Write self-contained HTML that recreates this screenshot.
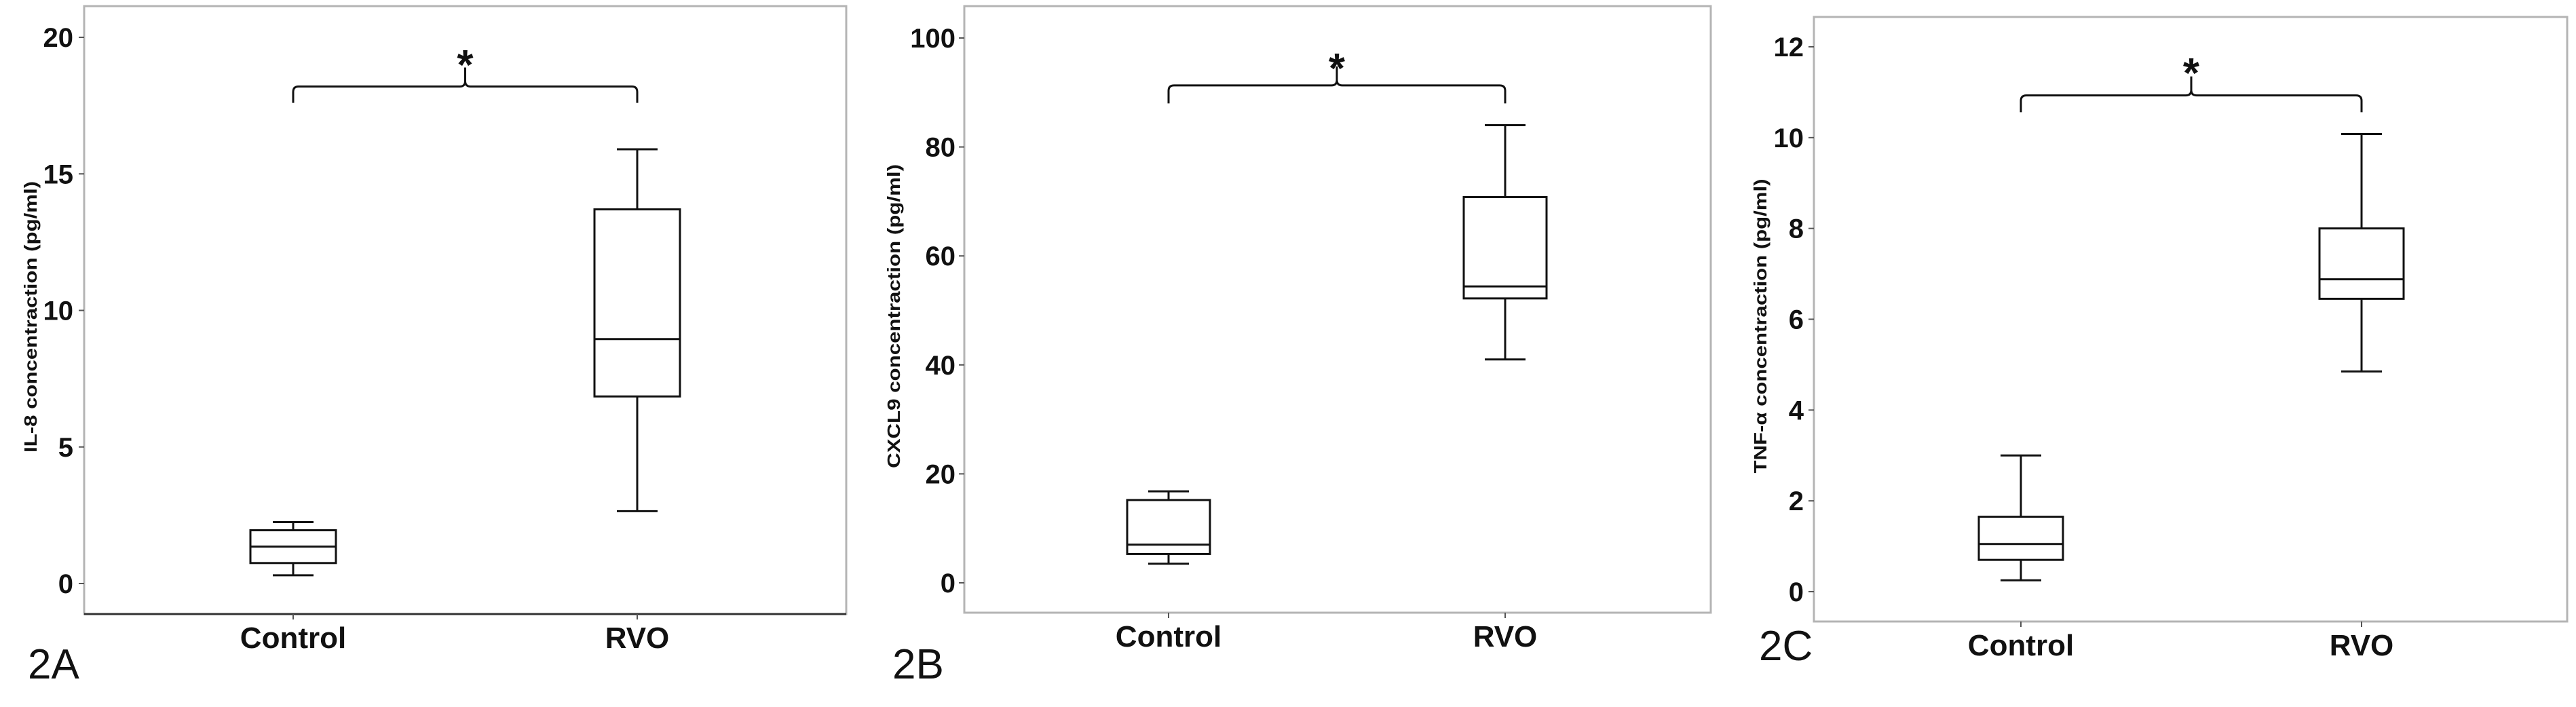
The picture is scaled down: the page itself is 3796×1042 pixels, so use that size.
<!DOCTYPE html>
<html><head><meta charset="utf-8"><style>
html,body{margin:0;padding:0;background:#fff;}
svg{display:block;}
text{font-family:"Liberation Sans Narrow","Liberation Sans",sans-serif;}
</style></head><body>
<svg id="fig" width="3796" height="1042" viewBox="0 0 3796 1042" xmlns="http://www.w3.org/2000/svg"></svg>
<script>
const categories = ["Control","RVO"];
// panel A: IL-8
const il8Stats = [[0.3,0.75,1.35,1.95,2.25],[2.65,6.85,8.95,13.7,15.9]];
const il8Ticks = [0,5,10,15,20];
const il8Sig = [18.2,17.6,19.2];
// panel B: CXCL9
const cxcl9Stats = [[3.5,5.3,7.0,15.2,16.8],[41,52.2,54.4,70.8,84]];
const cxcl9Ticks = [0,20,40,60,80,100];
const cxcl9Sig = [91.3,88,95.5];
// panel C: TNF-a
const tnfStats = [[0.25,0.7,1.05,1.65,3.0],[4.85,6.45,6.88,8.0,10.08]];
const tnfTicks = [0,2,4,6,8,10,12];
const tnfSig = [10.93,10.56,11.55];

const NS = "http://www.w3.org/2000/svg";
const svg = document.getElementById('fig');
function mk(tag, attrs, parent){
  const e = document.createElementNS(NS, tag);
  for (const k in attrs) e.setAttribute(k, attrs[k]);
  (parent||svg).appendChild(e);
  return e;
}
const panels = [
  {id:'a', label:'2A', title:'IL-8 concentraction (pg/ml)', stats:il8Stats, ticks:il8Ticks, sig:il8Sig,
   left:124, top:9, right:1247, bottom:905, y0:860, vmax:20, ymax:55, xs:[432,939], half:63, cap:30,
   tickRight:112, titleX:47, titleLen:400, lblX:41, lblY:1000, bottomDark:true},
  {id:'b', label:'2B', title:'CXCL9 concentraction (pg/ml)', stats:cxcl9Stats, ticks:cxcl9Ticks, sig:cxcl9Sig,
   left:1421, top:9, right:2521, bottom:903, y0:859, vmax:100, ymax:56, xs:[1722,2218], half:61, cap:30,
   tickRight:1412, titleX:1319, titleLen:448, lblX:1315, lblY:1000, bottomDark:false},
  {id:'c', label:'2C', title:'TNF-α concentraction (pg/ml)', stats:tnfStats, ticks:tnfTicks, sig:tnfSig,
   left:2673, top:25, right:3783, bottom:916, y0:872, vmax:12, ymax:69, xs:[2978,3480], half:62, cap:30,
   tickRight:2662, titleX:2596, titleLen:434, lblX:2592, lblY:973, bottomDark:false}
];
panels.forEach(p => {
  const g = mk('g', {});
  
  
  const y = v => p.y0 - (v / p.vmax) * (p.y0 - p.ymax);
  const frame = mk('rect', {x:p.left, y:p.top, width:p.right-p.left, height:p.bottom-p.top, fill:'none', stroke:'#b4b4b4', 'stroke-width':3}, g);
  
  
  const xa = mk('line', {x1:p.left, x2:p.right, y1:p.bottom, y2:p.bottom, stroke:p.bottomDark?'#333':'#b4b4b4', 'stroke-width':3}, g);
  
  
  p.ticks.forEach(t => {
    const tl = mk('line', {x1:p.left-8, x2:p.left, y1:y(t), y2:y(t), stroke:'#555', 'stroke-width':2}, g);
    
    
    const tx = mk('text', {x:p.tickRight-4, y:y(t)+14, 'text-anchor':'end', 'font-size':40, 'font-weight':'bold', fill:'#111'}, g);
    tx.textContent = t;
    
    
  });
  categories.forEach((c, i) => {
    const cx = p.xs[i];
    const tk = mk('line', {x1:cx, x2:cx, y1:p.bottom, y2:p.bottom+8, stroke:'#555', 'stroke-width':2}, g);
    
    
    const tx = mk('text', {x:cx, y:p.bottom+50, 'text-anchor':'middle', 'font-size':44, 'font-weight':'bold', fill:'#111'}, g);
    tx.textContent = c;
    
    
    const s = p.stats[i];
    const bg = mk('g', {stroke:'#111', 'stroke-width':3, fill:'none'}, g);
    
    
    mk('line', {x1:cx, x2:cx, y1:y(s[0]), y2:y(s[1])}, bg);
    mk('line', {x1:cx, x2:cx, y1:y(s[3]), y2:y(s[4])}, bg);
    mk('line', {x1:cx-p.cap, x2:cx+p.cap, y1:y(s[0]), y2:y(s[0])}, bg);
    mk('line', {x1:cx-p.cap, x2:cx+p.cap, y1:y(s[4]), y2:y(s[4])}, bg);
    mk('rect', {x:cx-p.half, y:y(s[3]), width:2*p.half, height:y(s[1])-y(s[3])}, bg);
    mk('line', {x1:cx-p.half, x2:cx+p.half, y1:y(s[2]), y2:y(s[2])}, bg);
  });
  // significance bracket
  const x1 = p.xs[0], x2 = p.xs[1], xm = (x1+x2)/2;
  const yb = y(p.sig[0]), ye = y(p.sig[1]), r = 8;
  const ypk = yb - 28;
  const d = `M${x1},${ye} L${x1},${yb+r} Q${x1},${yb} ${x1+r},${yb} L${xm-r},${yb} Q${xm},${yb} ${xm},${yb-r} L${xm},${ypk} M${xm},${yb-r} Q${xm},${yb} ${xm+r},${yb} L${x2-r},${yb} Q${x2},${yb} ${x2},${yb+r} L${x2},${ye}`;
  const br = mk('path', {d:d, fill:'none', stroke:'#111', 'stroke-width':3}, g);
  
  
  const st = mk('text', {x:xm, y:y(p.sig[2])+30, 'text-anchor':'middle', 'font-size':62, 'font-weight':'bold', fill:'#111', style:'font-family:"Liberation Sans",sans-serif'}, g);
  st.textContent = '*';
  
  
  const cy = (p.top + p.bottom) / 2 + 10;
  const yt = mk('text', {x:p.titleX, y:cy, transform:`rotate(-90 ${p.titleX} ${cy})`, 'text-anchor':'middle', 'dominant-baseline':'middle', 'font-size':26, 'font-weight':'bold', fill:'#111', textLength:p.titleLen, lengthAdjust:'spacingAndGlyphs', style:'font-family:"Liberation Sans",sans-serif'}, g);
  yt.textContent = p.title;
  
  
  const pl = mk('text', {x:p.lblX, y:p.lblY, 'font-size':62, fill:'#111', style:'font-family:"Liberation Sans",sans-serif'}, g);
  pl.textContent = p.label;
  
  
});
</script>
</body></html>
